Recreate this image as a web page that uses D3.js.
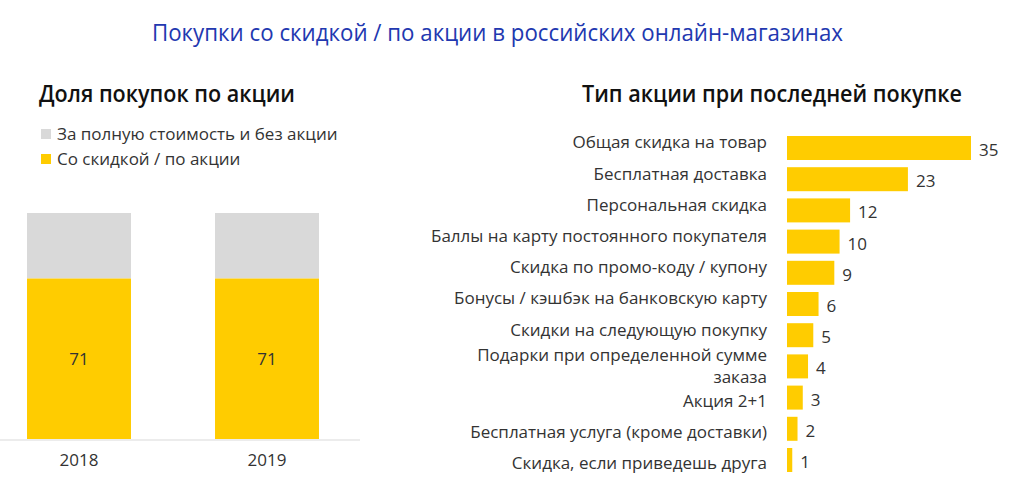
<!DOCTYPE html>
<html>
<head>
<meta charset="utf-8">
<script src="https://cdn.jsdelivr.net/npm/d3@7"></script>
<style>
  html, body { margin: 0; padding: 0; background: #fff; }
  svg { display: block; }
  text { font-family: "Open Sans", "Noto Sans", sans-serif; }
</style>
</head>
<body>
<svg id="chart" width="1024" height="486"></svg>
<script>
// ---- Data ----
const mainTitle = "Покупки со скидкой / по акции в российских онлайн-магазинах";
const leftTitle = "Доля покупок по акции";
const rightTitle = "Тип акции при последней покупке";

const years = ["2018", "2019"];
const promoShare = [71, 71];          // Со скидкой / по акции
const fullPriceShare = [29, 29];      // За полную стоимость и без акции
const legendLabels = ["За полную стоимость и без акции", "Со скидкой / по акции"];

const promoTypes = [
  "Общая скидка на товар",
  "Бесплатная доставка",
  "Персональная скидка",
  "Баллы на карту постоянного покупателя",
  "Скидка по промо-коду / купону",
  "Бонусы / кэшбэк на банковскую карту",
  "Скидки на следующую покупку",
  "Подарки при определенной сумме|заказа",
  "Акция 2+1",
  "Бесплатная услуга (кроме доставки)",
  "Скидка, если приведешь друга"
];
const promoValues = [35, 23, 12, 10, 9, 6, 5, 4, 3, 2, 1];

// ---- Styles ----
const YELLOW = "#ffcc00";
const GREY = "#d9d9d9";
const TEXT = "#333333";
const BLUE = "#2238b0";

const svg = d3.select("#chart");

function fitWidth(sel, w) {
  const node = sel.node();
  const len = node.getComputedTextLength();
  if (len > 0) sel.attr("textLength", w).attr("lengthAdjust", "spacingAndGlyphs");
}

// Main title
svg.append("text")
  .attr("x", 152).attr("y", 41)
  .attr("fill", BLUE)
  .attr("font-size", 24)
  .attr("font-weight", 400)
  .text(mainTitle)
  .call(fitWidth, 691);

// ---- Left chart ----
svg.append("text")
  .attr("x", 39).attr("y", 102)
  .attr("fill", "#111")
  .attr("font-size", 23)
  .attr("font-weight", 600)
  .text(leftTitle)
  .call(fitWidth, 256);

const legendColors = [GREY, YELLOW];
const legendY = [134, 159];
legendLabels.forEach((lab, i) => {
  svg.append("rect")
    .attr("x", 41).attr("y", legendY[i] - 5)
    .attr("width", 10).attr("height", 10)
    .attr("fill", legendColors[i]);
  svg.append("text")
    .attr("x", 57).attr("y", legendY[i])
    .attr("dy", "0.35em")
    .attr("fill", TEXT)
    .attr("font-size", 17)
    .text(lab);
});

const xL = d3.scaleBand().domain(years).range([-15, 361]).paddingInner(0.447).paddingOuter(0.2235);
const yL = d3.scaleLinear().domain([0, 100]).range([439, 213]);

const leftG = svg.append("g");
years.forEach((yr, i) => {
  leftG.append("rect")
    .attr("x", xL(yr)).attr("width", xL.bandwidth())
    .attr("y", yL(promoShare[i] + fullPriceShare[i]))
    .attr("height", yL(promoShare[i]) - yL(promoShare[i] + fullPriceShare[i]))
    .attr("fill", GREY);
  leftG.append("rect")
    .attr("x", xL(yr)).attr("width", xL.bandwidth())
    .attr("y", yL(promoShare[i]))
    .attr("height", yL(0) - yL(promoShare[i]))
    .attr("fill", YELLOW);
  leftG.append("text")
    .attr("x", xL(yr) + xL.bandwidth() / 2)
    .attr("y", (yL(promoShare[i]) + yL(0)) / 2)
    .attr("dy", "0.35em")
    .attr("text-anchor", "middle")
    .attr("fill", TEXT)
    .attr("font-size", 17)
    .text(promoShare[i]);
});

const axisG = svg.append("g").attr("transform", `translate(0,${yL(0) + 1})`)
  .call(d3.axisBottom(xL).tickSize(0).tickPadding(14));
axisG.select(".domain").attr("stroke", "#e6e6e6").attr("stroke-width", 1.5).attr("d", "M0,0H360");
axisG.selectAll("text").attr("fill", TEXT).attr("font-size", 17)
  .attr("font-family", "'Open Sans', 'Noto Sans', sans-serif");

// ---- Right chart ----
svg.append("text")
  .attr("x", 582).attr("y", 102)
  .attr("fill", "#111")
  .attr("font-size", 23)
  .attr("font-weight", 600)
  .text(rightTitle)
  .call(fitWidth, 380);

const yR = d3.scaleBand().domain(promoTypes).range([132.4, 475.6]).paddingInner(0.2308).paddingOuter(0.1154);
const xR = d3.scaleLinear().domain([0, 35]).range([787, 971]);

const rightG = svg.append("g");
rightG.selectAll("rect.bar")
  .data(promoTypes)
  .join("rect")
  .attr("class", "bar")
  .attr("x", xR(0))
  .attr("y", d => yR(d))
  .attr("width", (d, i) => xR(promoValues[i]) - xR(0))
  .attr("height", yR.bandwidth())
  .attr("fill", YELLOW);

rightG.selectAll("text.val")
  .data(promoTypes)
  .join("text")
  .attr("class", "val")
  .attr("x", (d, i) => xR(promoValues[i]) + 8)
  .attr("y", d => yR(d) + yR.bandwidth() / 2 + 2)
  .attr("dy", "0.35em")
  .attr("fill", TEXT)
  .attr("font-size", 17)
  .text((d, i) => promoValues[i]);

promoTypes.forEach((lab, i) => {
  const lines = lab.split("|");
  const cy = yR(lab) + yR.bandwidth() / 2;
  const t = rightG.append("text")
    .attr("x", 767)
    .attr("text-anchor", "end")
    .attr("fill", TEXT)
    .attr("font-size", 17);
  if (lines.length === 1) {
    const off = i < 7 ? -5.5 : 3;
    t.attr("y", cy + off).attr("dy", "0.35em").text(lines[0]);
  } else {
    lines.forEach((ln, j) => {
      t.append("tspan").attr("x", 767).attr("y", cy - 11 + j * 22).attr("dy", "0.35em").text(ln);
    });
  }
});
</script>
</body>
</html>
